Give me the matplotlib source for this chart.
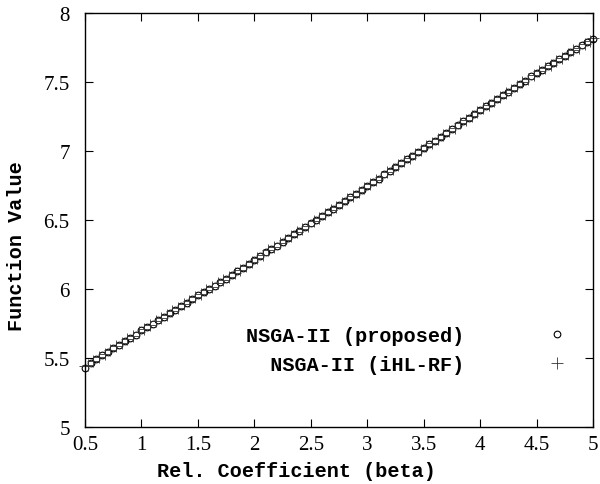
import matplotlib
matplotlib.use("Agg")
import matplotlib.pyplot as plt
from matplotlib.ticker import FixedLocator, FixedFormatter

# relaxation coefficient sweep, proposed NSGA-II
beta_prop = [0.50, 0.55, 0.60, 0.65, 0.70, 0.75, 0.80, 0.85, 0.90, 0.95,
             1.00, 1.05, 1.10, 1.15, 1.20, 1.25, 1.30, 1.35, 1.40, 1.45,
             1.50, 1.55, 1.60, 1.65, 1.70, 1.75, 1.80, 1.85, 1.90, 1.95,
             2.00, 2.05, 2.10, 2.15, 2.20, 2.25, 2.30, 2.35, 2.40, 2.45,
             2.50, 2.55, 2.60, 2.65, 2.70, 2.75, 2.80, 2.85, 2.90, 2.95,
             3.00, 3.05, 3.10, 3.15, 3.20, 3.25, 3.30, 3.35, 3.40, 3.45,
             3.50, 3.55, 3.60, 3.65, 3.70, 3.75, 3.80, 3.85, 3.90, 3.95,
             4.00, 4.05, 4.10, 4.15, 4.20, 4.25, 4.30, 4.35, 4.40, 4.45,
             4.50, 4.55, 4.60, 4.65, 4.70, 4.75, 4.80, 4.85, 4.90, 4.95,
             5.00]
fval_prop = [5.43, 5.465, 5.49, 5.52, 5.545, 5.57, 5.595, 5.62, 5.645, 5.67,
             5.70, 5.725, 5.75, 5.775, 5.80, 5.825, 5.85, 5.875, 5.90, 5.93,
             5.955, 5.975, 6.00, 6.025, 6.05, 6.075, 6.10, 6.13, 6.155, 6.18,
             6.21, 6.24, 6.265, 6.29, 6.315, 6.34, 6.37, 6.395, 6.42, 6.45,
             6.475, 6.50, 6.53, 6.555, 6.58, 6.61, 6.635, 6.665, 6.69, 6.72,
             6.745, 6.775, 6.80, 6.83, 6.855, 6.885, 6.91, 6.94, 6.965, 6.995,
             7.02, 7.05, 7.075, 7.105, 7.13, 7.16, 7.185, 7.215, 7.24, 7.27,
             7.295, 7.325, 7.35, 7.38, 7.405, 7.43, 7.46, 7.485, 7.51, 7.54,
             7.565, 7.59, 7.615, 7.64, 7.665, 7.69, 7.715, 7.74, 7.765, 7.79,
             7.815]

# same sweep, NSGA-II with iHL-RF
beta_ihl = [0.500, 0.525, 0.575, 0.625, 0.675, 0.725, 0.775, 0.825, 0.875, 0.925,
            0.975, 1.025, 1.075, 1.125, 1.175, 1.225, 1.275, 1.325, 1.375, 1.425,
            1.475, 1.525, 1.575, 1.625, 1.675, 1.725, 1.775, 1.825, 1.875, 1.925,
            1.975, 2.025, 2.075, 2.125, 2.175, 2.225, 2.275, 2.325, 2.375, 2.425,
            2.475, 2.525, 2.575, 2.625, 2.675, 2.725, 2.775, 2.825, 2.875, 2.925,
            2.975, 3.025, 3.075, 3.125, 3.175, 3.225, 3.275, 3.325, 3.375, 3.425,
            3.475, 3.525, 3.575, 3.625, 3.675, 3.725, 3.775, 3.825, 3.875, 3.925,
            3.975, 4.025, 4.075, 4.125, 4.175, 4.225, 4.275, 4.325, 4.375, 4.425,
            4.475, 4.525, 4.575, 4.625, 4.675, 4.725, 4.775, 4.825, 4.875, 4.925,
            4.975, 5.000]
fval_ihl = [5.44, 5.45, 5.48, 5.505, 5.53, 5.555, 5.585, 5.61, 5.635, 5.66,
            5.685, 5.71, 5.74, 5.765, 5.79, 5.815, 5.84, 5.865, 5.89, 5.915,
            5.94, 5.965, 5.99, 6.015, 6.04, 6.065, 6.09, 6.115, 6.14, 6.17,
            6.195, 6.225, 6.25, 6.28, 6.305, 6.33, 6.355, 6.385, 6.41, 6.435,
            6.46, 6.49, 6.515, 6.54, 6.57, 6.595, 6.62, 6.65, 6.675, 6.705,
            6.73, 6.76, 6.79, 6.815, 6.845, 6.87, 6.895, 6.925, 6.95, 6.98,
            7.005, 7.035, 7.06, 7.09, 7.115, 7.145, 7.17, 7.20, 7.225, 7.255,
            7.28, 7.31, 7.335, 7.365, 7.39, 7.42, 7.445, 7.47, 7.50, 7.525,
            7.55, 7.58, 7.60, 7.625, 7.65, 7.675, 7.705, 7.73, 7.75, 7.775,
            7.80, 7.82]

xticks = [0.5, 1, 1.5, 2, 2.5, 3, 3.5, 4, 4.5, 5]
xtick_labels = ["0.5", "1", "1.5", "2", "2.5", "3", "3.5", "4", "4.5", "5"]
yticks = [5, 5.5, 6, 6.5, 7, 7.5, 8]
ytick_labels = ["5", "5.5", "6", "6.5", "7", "7.5", "8"]

mono = {"family": "Liberation Mono", "weight": "bold", "size": 14.5}

fig = plt.figure(figsize=(6, 4.85), dpi=100)
ax = fig.add_axes([85 / 600, 57 / 485, 508 / 600, 414 / 485])

ax.plot(beta_prop, fval_prop, ls="none", marker="o", ms=4.8,
        mfc="none", mec="black", mew=0.8, clip_on=False,
        label="NSGA-II (proposed)")
ax.plot(beta_ihl, fval_ihl, ls="none", marker="+", ms=8.5,
        mec="#333333", mew=0.6, clip_on=False,
        label="  NSGA-II (iHL-RF)")

ax.set_xlim(0.5, 5)
ax.set_ylim(5, 8)
ax.xaxis.set_major_locator(FixedLocator(xticks))
ax.xaxis.set_major_formatter(FixedFormatter(xtick_labels))
ax.yaxis.set_major_locator(FixedLocator(yticks))
ax.yaxis.set_major_formatter(FixedFormatter(ytick_labels))

ax.tick_params(direction="in", top=True, right=True, length=6, width=0.8)
ax.tick_params(axis="x", pad=6)
ax.tick_params(axis="y", pad=11)
for lab in ax.get_xticklabels() + ax.get_yticklabels():
    lab.set_fontfamily("Liberation Serif")
    lab.set_fontsize(15)
for sp in ax.spines.values():
    sp.set_linewidth(1.0)

ax.set_xlabel("Rel. Coefficient (beta)", fontdict=mono)
ax.set_ylabel("Function Value", fontdict=mono)
ax.xaxis.set_label_coords(0.417, -0.082)
ax.yaxis.set_label_coords(-0.116, 0.44)

leg = ax.legend(loc="center right", bbox_to_anchor=(0.9685, 0.186),
                frameon=False, markerfirst=False, prop=mono,
                handlelength=2, handletextpad=3.6, borderpad=0,
                borderaxespad=0, labelspacing=0.5)

fig.savefig("out.png", dpi=100)
